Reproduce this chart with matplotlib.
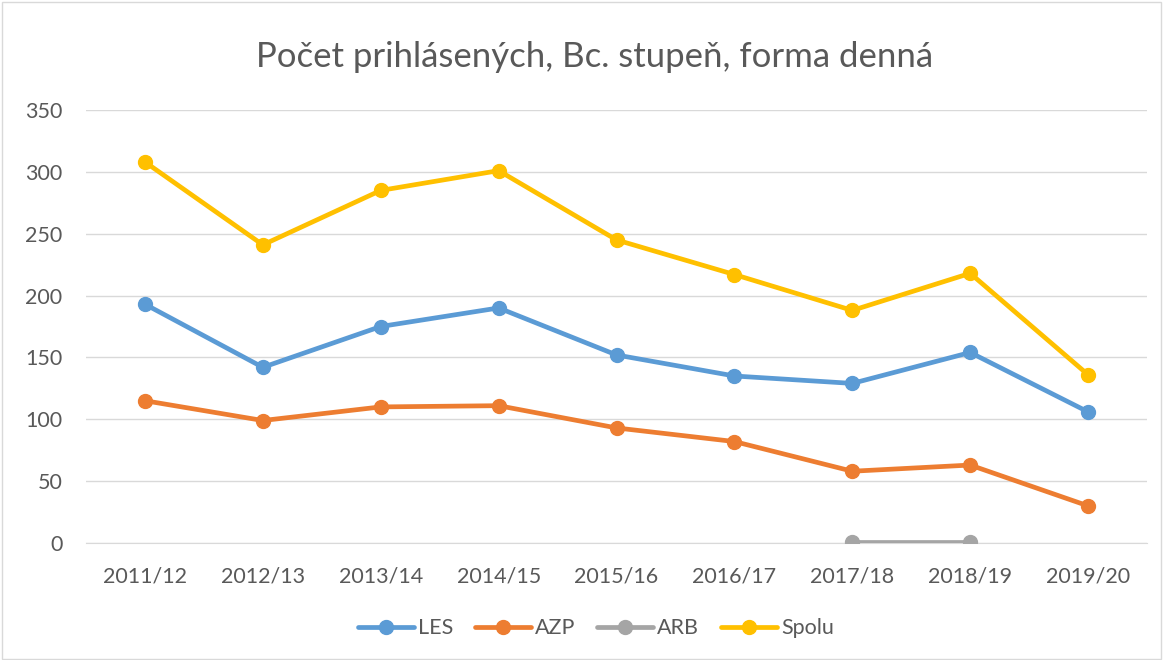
import matplotlib.pyplot as plt
from matplotlib.patches import Rectangle

plt.rcParams['font.family'] = ['Lato', 'DejaVu Sans']

years = ['2011/12', '2012/13', '2013/14', '2014/15', '2015/16',
         '2016/17', '2017/18', '2018/19', '2019/20']
les = [193, 142, 175, 190, 152, 135, 129, 154, 106]
azp = [115, 99, 110, 111, 93, 82, 58, 63, 30]
arb = [None, None, None, None, None, None, 1, 1, None]
spolu = [308, 241, 285, 301, 245, 217, 188, 218, 136]

series = [('LES', les, '#5B9BD5'), ('AZP', azp, '#ED7D31'),
          ('ARB', arb, '#A5A5A5'), ('Spolu', spolu, '#FFC000')]

txt = '#595959'
fig = plt.figure(figsize=(11.64, 6.6), dpi=100)
fig.patches.append(Rectangle((0.002, 0.002), 0.995, 0.995, transform=fig.transFigure,
                             fill=False, edgecolor='#D9D9D9', lw=1))
ax = fig.add_axes([0.0739, 0.1773, 0.9115, 0.656])

x = list(range(len(years)))
for name, vals, col in series:
    xs = [i for i, v in zip(x, vals) if v is not None]
    ys = [v for v in vals if v is not None]
    ax.plot(xs, ys, color=col, lw=3.4, marker='o', markersize=10,
            solid_capstyle='round', label=name, zorder=3)

ax.set_xlim(-0.5, len(years) - 0.5)
ax.set_ylim(0, 350)
ax.set_yticks(range(0, 351, 50))
ax.set_xticks(x)
ax.set_xticklabels(years)
ax.grid(axis='y', color='#D9D9D9', lw=1)
ax.set_axisbelow(True)
for s in ['top', 'right', 'left']:
    ax.spines[s].set_visible(False)
ax.spines['bottom'].set_color('#D9D9D9')
ax.tick_params(length=0, labelsize=15.5, colors=txt)
ax.tick_params(axis='x', pad=17)
ax.tick_params(axis='y', pad=17)

fig.text(0.511, 0.913, 'Počet prihlásených, Bc. stupeň, forma denná',
         ha='center', va='center', fontsize=25, color=txt)

fig.legend(loc='center', bbox_to_anchor=(0.512, 0.048), ncol=4, frameon=False,
           fontsize=15.5, labelcolor=txt, handlelength=2.6, columnspacing=1.0,
           handletextpad=0.2)

fig.savefig('out.png', dpi=100)
